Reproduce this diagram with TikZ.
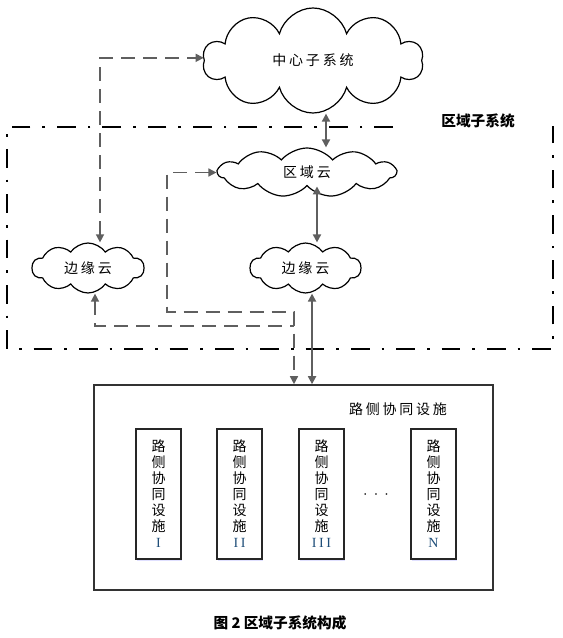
\documentclass[tikz,border=0pt]{standalone}
\usepackage{fontspec}
\usetikzlibrary{shapes.symbols,arrows.meta,shadows}
\setmainfont{Noto Sans CJK SC}
\newfontfamily\cjklarga[LetterSpace=20]{Noto Sans CJK SC}
\newfontfamily\numfont{Liberation Serif}

\definecolor{seta}{RGB}{95,95,95}
\definecolor{numazul}{RGB}{31,78,121}

\begin{document}
\begin{tikzpicture}[x=0.75pt,y=-0.75pt,
    nuvem/.style={cloud, draw=black, line width=0.9pt, cloud ignores aspect,
        inner sep=0pt, font=\cjklarga\fontsize{10.5}{12}\selectfont},
    solida/.style={seta, line width=1.4pt,
        {Triangle[length=6pt,width=6pt]}-{Triangle[length=6pt,width=6pt]}},
    tracejada/.style={seta, line width=1.1pt, dash pattern=on 10.5pt off 6pt},
    caixinha/.style={draw=black!85, line width=0.8pt, fill=white,
        minimum width=33.75pt, minimum height=97.5pt, inner sep=0pt,
        align=center, font=\fontsize{10.5}{12}\selectfont,
        drop shadow={shadow xshift=1pt, shadow yshift=-1.2pt, fill=blue!20, opacity=0.6}}]

\useasboundingbox (0,0) rectangle (562,638);

% regiao (traco-ponto)
\draw[black, line width=2pt, dash pattern=on 14pt off 9pt on 2pt off 9pt]
    (393,127) -- (7,127) -- (7,349) -- (553,349) -- (553,126);
\node[font=\fontsize{11}{13}\selectfont\bfseries] (rotulo) at (478,121) {区域子系统};

% nuvens
\node[nuvem, cloud puffs=10, minimum width=165pt, minimum height=78.75pt] (centro) at (313,60.5) {中心子系统};
\node[nuvem, cloud puffs=11, cloud puff arc=100, minimum width=133.5pt, minimum height=36.75pt] (regiao) at (307,172.5) {区域云};
\node[nuvem, cloud puffs=10, cloud puff arc=110, minimum width=84pt, minimum height=37.5pt] (bordaE) at (88,268) {边缘云};
\node[nuvem, cloud puffs=10, cloud puff arc=110, minimum width=83.25pt, minimum height=37.5pt] (bordaD) at (305.5,268) {边缘云};

% caixa de baixo
\node[draw=black!80, line width=1.2pt, minimum width=299.25pt, minimum height=153.75pt] (caixa) at (293.5,487.5) {};
\node[font=\cjklarga\fontsize{10.5}{12}\selectfont] (titcaixa) at (398,409) {路侧协同设施};

\foreach \x/\n/\nome in {158.5/I/facI, 239.5/I\hspace{2pt}I/facII, 321.5/I\hspace{2pt}I\hspace{2pt}I/facIII, 433.5/N/facN}
    \node[caixinha] (\nome) at (\x,494) {路\\侧\\协\\同\\设\\施\\{\numfont\color{numazul}\n}};
\node[font=\fontsize{12}{12}\selectfont] (pontos) at (376,495) {$\cdot\,\cdot\,\cdot$};

% ligacoes
\coordinate (k1) at (167,312);
\coordinate (k2) at (294,312);
\coordinate (k3) at (294,326);

\draw[solida] ([xshift=14.25pt]regiao.north) -- ([xshift=14.25pt]regiao.north |- centro.south);
\draw[solida] ([xshift=7.5pt]regiao.south) -- ([xshift=7.5pt]regiao.south |- bordaD.north);
\draw[solida] ([xshift=4.9pt]bordaD.south) -- ([xshift=4.9pt]bordaD.south |- caixa.north);

\draw[tracejada, {Triangle[length=6pt,width=6pt]}-{Triangle[length=6pt,width=6pt]}]
    ([xshift=9pt]bordaE.north) |- ([yshift=2pt]centro.west);
\draw[tracejada, {Triangle[length=6pt,width=6pt]}-{Triangle[length=6pt,width=6pt]}]
    (regiao.west) -| (k1) -- (k2) -- (k2 |- caixa.north);
\draw[tracejada, {Triangle[length=6pt,width=6pt]}-]
    ([xshift=5.25pt]bordaE.south) |- (k3);

\node[font=\fontsize{11}{13}\selectfont\bfseries] (legenda) at (280,623) {图 2 区域子系统构成};
\end{tikzpicture}
\end{document}
